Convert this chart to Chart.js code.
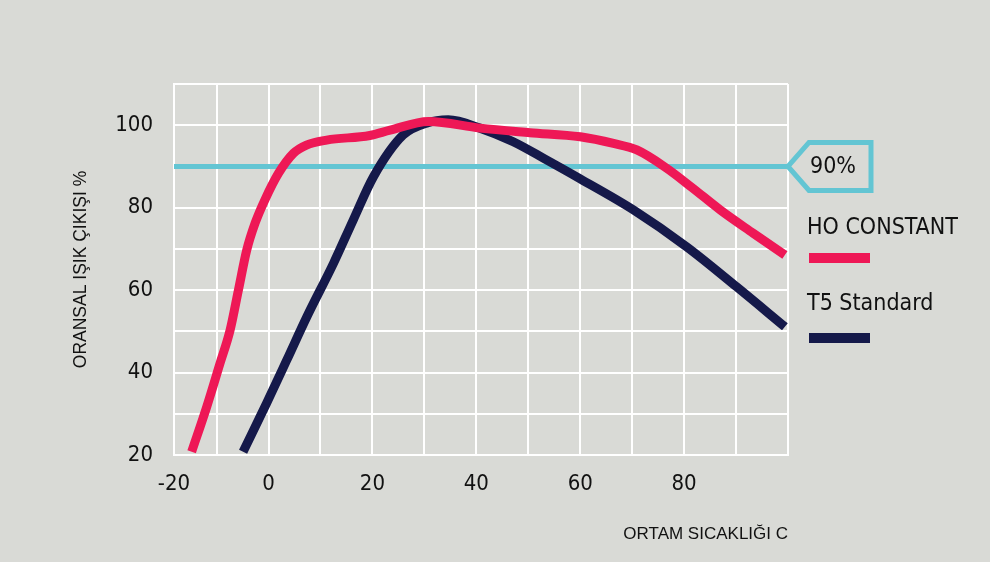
<!DOCTYPE html>
<html>
<head>
<meta charset="utf-8">
<script src="https://cdn.jsdelivr.net/npm/chart.js@4.4.1/dist/chart.umd.min.js"></script>
<style>
  html, body { margin: 0; padding: 0; background: #d9dad6; }
  #wrap { width: 990px; height: 562px; position: relative; }
</style>
</head>
<body>
<div id="wrap"><canvas id="c" width="990" height="562"></canvas></div>
<script>
// Relative light output (%) against ambient temperature (°C)
const hoTemp   = [-14.8, -11.9, -9.35, -7.4, -5.8, -4.2, -2.6, -0.7, 1.9, 4.8, 7.3, 11.2, 19.5, 23.4, 30.8, 40.7, 50.3, 60.0, 66.4, 70.9, 76.6, 81.5, 87.0, 93.3, 99.4];
const hoOutput = [20.8, 31.7, 42.2, 50.3, 60.0, 69.7, 76.2, 81.9, 88.3, 93.2, 95.2, 96.4, 97.5, 98.8, 100.9, 99.3, 98.2, 97.2, 95.6, 94.0, 89.6, 84.9, 79.4, 73.8, 68.5];

const t5Temp   = [-4.9, -0.4, 3.5, 7.4, 12.5, 16.3, 20.2, 25.9, 30.4, 34.6, 40.7, 47.1, 53.5, 60.0, 70.2, 80.5, 90.1, 99.4];
const t5Output = [20.8, 32.5, 43.0, 53.6, 66.5, 77.0, 87.5, 97.6, 100.5, 101.3, 99.3, 96.0, 91.6, 87.0, 79.5, 70.5, 60.8, 51.1];

const seriesNames = ['HO CONSTANT', 'T5 Standard'];
const thresholdValue = 90;
const thresholdLabel = '90%';

// Axis ticks and titles
const xTickLabels = ['-20', '0', '20', '40', '60', '80'];
const yTickLabels = ['20', '40', '60', '80', '100'];
const xTitle = 'ORTAM SICAKLIĞI C';
const yTitle = 'ORANSAL IŞIK ÇIKIŞI %';

// The left frame of the grid carries the "-20" label
const X_MIN = -18.2, X_MAX = 100, Y_MIN = 20, Y_MAX = 110;

const BG = '#d9dad6';
const RED = '#ee1856';
const NAVY = '#15194a';
const CYAN = '#63c5d3';
const NARROW = '"Liberation Sans Narrow", "Arial Narrow", "DejaVu Sans Condensed", sans-serif';
const SANS = '"Liberation Sans", Arial, sans-serif';

const toPoints = (xs, ys) => xs.map((x, i) => ({ x, y: ys[i] }));

const bgPlugin = {
  id: 'bg',
  beforeDraw(chart) {
    const { ctx, width, height } = chart;
    ctx.save();
    ctx.fillStyle = BG;
    ctx.fillRect(0, 0, width, height);
    ctx.restore();
  }
};

// Threshold tag at the end of the 90% line, plus the series key on the right
const sidePlugin = {
  id: 'side',
  afterDraw(chart) {
    const { ctx, chartArea } = chart;
    const y = chart.scales.y.getPixelForValue(thresholdValue);
    const x0 = chartArea.right;
    ctx.save();
    ctx.beginPath();
    ctx.moveTo(x0, y);
    ctx.lineTo(x0 + 21, y - 24);
    ctx.lineTo(x0 + 83, y - 24);
    ctx.lineTo(x0 + 83, y + 24);
    ctx.lineTo(x0 + 21, y + 24);
    ctx.closePath();
    ctx.fillStyle = BG;
    ctx.fill();
    ctx.lineWidth = 5;
    ctx.lineJoin = 'miter';
    ctx.strokeStyle = CYAN;
    ctx.stroke();

    ctx.fillStyle = '#111';
    ctx.font = '23px ' + NARROW;
    ctx.textAlign = 'center';
    ctx.textBaseline = 'middle';
    ctx.fillText(thresholdLabel, x0 + 45, y + 1);

    // key
    const rows = [
      { text: chart.data.datasets[0].label, color: chart.data.datasets[0].borderColor, ty: 228, by: 253 },
      { text: chart.data.datasets[1].label, color: chart.data.datasets[1].borderColor, ty: 304, by: 333 }
    ];
    ctx.textAlign = 'left';
    rows.forEach(r => {
      ctx.fillStyle = '#111';
      ctx.fillText(r.text, x0 + 19, r.ty);
      ctx.fillStyle = r.color;
      ctx.fillRect(x0 + 21, r.by, 61, 10);
    });
    ctx.restore();
  }
};

new Chart(document.getElementById('c'), {
  type: 'scatter',
  data: {
    datasets: [
      {
        label: seriesNames[0],
        data: toPoints(hoTemp, hoOutput),
        showLine: true,
        borderColor: RED,
        backgroundColor: RED,
        borderWidth: 9,
        pointRadius: 0,
        cubicInterpolationMode: 'monotone',
        order: 0
      },
      {
        label: seriesNames[1],
        data: toPoints(t5Temp, t5Output),
        showLine: true,
        borderColor: NAVY,
        backgroundColor: NAVY,
        borderWidth: 9,
        pointRadius: 0,
        cubicInterpolationMode: 'monotone',
        order: 1
      },
      {
        label: thresholdLabel,
        data: [{ x: X_MIN, y: thresholdValue }, { x: X_MAX, y: thresholdValue }],
        showLine: true,
        borderColor: CYAN,
        borderWidth: 5,
        pointRadius: 0,
        order: 2
      }
    ]
  },
  options: {
    responsive: false,
    devicePixelRatio: 1,
    animation: false,
    layout: { padding: { top: 84, right: 202, bottom: 0, left: 0 } },
    plugins: { legend: { display: false }, tooltip: { enabled: false } },
    scales: {
      x: {
        type: 'linear',
        min: X_MIN,
        max: X_MAX,
        afterBuildTicks(axis) {
          const vals = [X_MIN];
          for (let v = -10; v <= X_MAX; v += 10) vals.push(v);
          axis.ticks = vals.map(v => ({ value: v }));
        },
        afterFit(axis) { axis.height = 107; },
        ticks: {
          autoSkip: false,
          maxRotation: 0,
          padding: 16,
          color: '#111',
          font: { family: NARROW, size: 22 },
          callback(v) {
            if (v === X_MIN) return xTickLabels[0];
            const idx = xTickLabels.indexOf(String(v));
            return idx > 0 ? xTickLabels[idx] : '';
          }
        },
        grid: { color: '#ffffff', lineWidth: 2, drawTicks: false },
        border: { display: true, color: '#ffffff', width: 2 },
        title: {
          display: true,
          text: xTitle,
          align: 'end',
          color: '#111',
          font: { family: SANS, size: 17 },
          padding: { top: 0, bottom: 17 }
        }
      },
      y: {
        type: 'linear',
        min: Y_MIN,
        max: Y_MAX,
        afterFit(axis) { axis.width = 174; },
        ticks: {
          stepSize: 10,
          padding: 21,
          color: '#111',
          font: { family: NARROW, size: 22 },
          callback(v) {
            const s = String(v);
            return yTickLabels.includes(s) ? s : '';
          }
        },
        grid: { color: '#ffffff', lineWidth: 2, drawTicks: false },
        border: { display: true, color: '#ffffff', width: 2 },
        title: {
          display: true,
          text: yTitle,
          color: '#111',
          font: { family: SANS, size: 17.5 },
          padding: { top: 71, bottom: 0 }
        }
      }
    }
  },
  plugins: [bgPlugin, sidePlugin]
});
</script>
</body>
</html>
